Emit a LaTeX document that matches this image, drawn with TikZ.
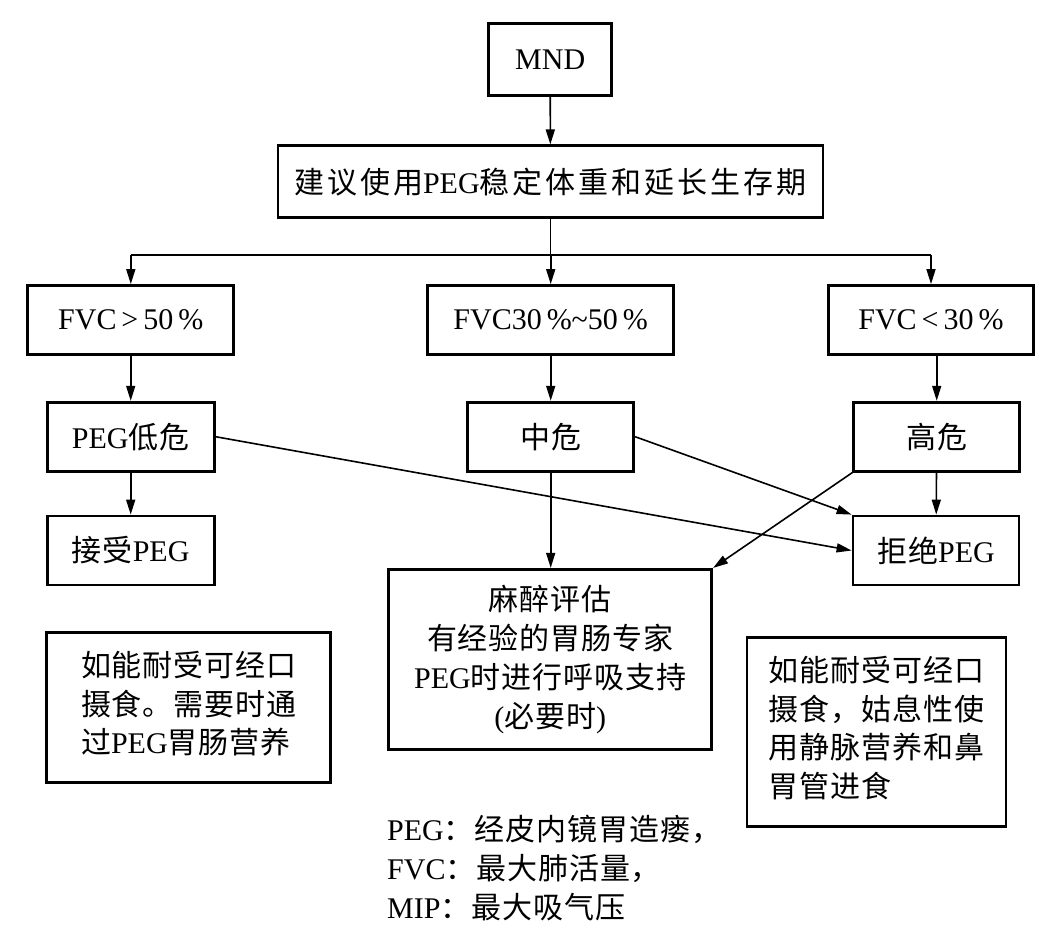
\documentclass[tikz,border=0pt]{standalone}
\usepackage{fontspec}
\setmainfont{Liberation Serif}
\newfontfamily\cjkfont{Noto Sans CJK SC}[LetterSpace=3]
\newfontfamily\cjkwide{Noto Sans CJK SC}[LetterSpace=10]
\newcommand{\zh}[1]{{\cjkfont #1}}
\newcommand{\zhw}[1]{{\cjkwide #1}}
\usetikzlibrary{arrows.meta}
\begin{document}
\begin{tikzpicture}[x=1pt,y=-1pt,
  box/.style={draw, line width=2.8pt, rectangle, inner sep=0pt, align=center,
    font=\fontsize{30}{39}\selectfont},
  plain/.style={inner sep=0pt, font=\fontsize{30}{39}\selectfont},
  conn/.style={line width=1.6pt},
  arr/.style={conn, -{Triangle[length=15pt,width=9pt]}}]
\useasboundingbox (0,0) rectangle (1060,938);
\node[box, minimum width=123pt, minimum height=72pt] (mnd) at (550.2,59.5) {MND};
\node[box, minimum width=545pt, minimum height=72pt] (top) at (550.4,181.8) {\zhw{建议使用}PEG\zhw{稳定体重和延长生存期}};
\node[box, minimum width=206pt, minimum height=69pt] (fvc1) at (130.8,320) {FVC\,>\,50\,\%};
\node[box, minimum width=246pt, minimum height=69pt] (fvc2) at (550.7,320) {FVC30\,\%\textasciitilde50\,\%};
\node[box, minimum width=205pt, minimum height=69pt] (fvc3) at (931,320) {FVC\,<\,30\,\%};
\node[box, minimum width=167pt, minimum height=69pt] (low) at (130.7,436.7) {PEG\zh{低危}};
\node[box, minimum width=166pt, minimum height=69pt] (mid) at (550.7,436.7) {\zh{中危}};
\node[box, minimum width=166pt, minimum height=69pt] (high) at (936.7,436.7) {\zh{高危}};
\node[box, minimum width=167pt, minimum height=69pt] (acc) at (130.7,550.5) {\zh{接受}PEG};
\node[box, minimum width=166pt, minimum height=69pt] (ref) at (936,550.5) {\zh{拒绝}PEG};
\node[box, minimum width=323pt, minimum height=180pt] (ane) at (550.2,659.3)
  {\zh{麻醉评估}\\\zh{有经验的胃肠专家}\\PEG\zh{时进行呼吸支持}\\(\zh{必要时})};
\node[box, minimum width=284pt, minimum height=150pt] (nl) at (188.7,707.2)
  {\begin{tabular}{@{}l@{}}\zh{如能耐受可经口}\\[-0.5pt]\zh{摄食。需要时通}\\[-0.5pt]\zh{过}PEG\zh{胃肠营养}\end{tabular}};
\node[box, minimum width=259pt, minimum height=189pt] (nr) at (876.5,731.7)
  {\begin{tabular}{@{}l@{}}\zh{如能耐受可经口}\\[-0.5pt]\zh{摄食，姑息性使}\\[-0.5pt]\zh{用静脉营养和鼻}\\[-0.5pt]\zh{胃管进食}\end{tabular}};
\node[plain, anchor=west, align=left] (leg) at (387,867.6)
  {PEG\zh{：经皮内镜胃造瘘，}\\FVC\zh{：最大肺活量，}\\MIP\zh{：最大吸气压}};
\coordinate (bus) at (550,255);
\draw[arr] (mnd) -- (top);
\draw[conn] (top.south) -- (top.south |- bus);
\draw[conn] (fvc1.north |- bus) -- (fvc3.north |- bus);
\draw[arr] (fvc1.north |- bus) -- (fvc1.north);
\draw[arr] (fvc2.north |- bus) -- (fvc2.north);
\draw[arr] (fvc3.north |- bus) -- (fvc3.north);
\draw[arr] (low.north |- fvc1.south) -- (low.north);
\draw[arr] (mid.north |- fvc2.south) -- (mid.north);
\draw[arr] (high.north |- fvc3.south) -- (high.north);
\draw[arr] (low) -- (acc);
\draw[arr] (high) -- (ref);
\draw[arr] (mid.south) -- (ane.north -| mid.south);
\draw[arr] (low.east) -- (ref.west);
\draw[arr] (mid.east) -- (ref.north west);
\draw[arr] (high.south west) -- (ane.north east);
\end{tikzpicture}
\end{document}
